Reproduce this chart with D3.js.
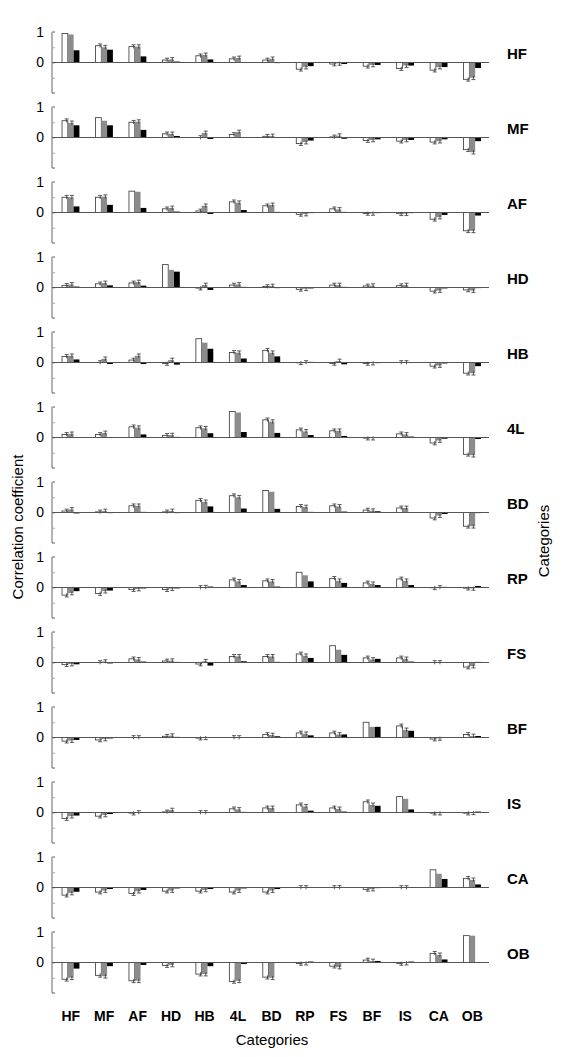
<!DOCTYPE html>
<html><head><meta charset="utf-8">
<script src="https://cdn.jsdelivr.net/npm/d3@7"></script>
<style>body{margin:0;background:#fff}svg{display:block;font-family:"Liberation Sans",Arial,sans-serif}</style>
</head><body><svg id="c" width="568" height="1057"></svg>
<script>
const categories = ["HF","MF","AF","HD","HB","4L","BD","RP","FS","BF","IS","CA","OB"];
const seriesNames = ["white","gray","black"];
const yTicks = [1,0.5,0,-0.5,-1];
const yTickLabels = ["1","","0","",""];
const errSize = [0.06,0.06,0];
// values[row][col] = [white, gray, black]
const valHF = [[0.95,0.92,0.4],[0.55,0.5,0.42],[0.52,0.52,0.2],[0.08,0.1,0.03],[0.22,0.25,0.1],[0.12,0.15,0],[0.08,0.12,-0.02],[-0.22,-0.15,-0.12],[-0.05,-0.03,-0.05],[-0.12,-0.08,-0.08],[-0.2,-0.1,-0.1],[-0.25,-0.15,-0.15],[-0.55,-0.5,-0.18]];
const valMF = [[0.55,0.48,0.4],[0.65,0.55,0.4],[0.5,0.52,0.25],[0.12,0.12,0.05],[0,0.15,-0.05],[0.1,0.18,0],[0.04,0.05,0],[-0.2,-0.15,-0.1],[0.02,0.06,-0.04],[-0.1,-0.08,-0.06],[-0.12,-0.08,-0.08],[-0.15,-0.12,-0.06],[-0.4,-0.48,-0.12]];
const valAF = [[0.5,0.5,0.2],[0.5,0.52,0.25],[0.7,0.68,0.15],[0.12,0.15,0.03],[0.05,0.22,-0.05],[0.35,0.32,0.08],[0.22,0.25,0.02],[-0.06,-0.05,-0.02],[0.12,0.1,0.02],[-0.03,-0.03,-0.02],[-0.04,-0.04,-0.02],[-0.22,-0.15,-0.08],[-0.6,-0.6,-0.1]];
const valHD = [[0.07,0.1,0.03],[0.12,0.15,0.07],[0.15,0.18,0.06],[0.75,0.58,0.52],[-0.02,0.08,-0.08],[0.08,0.1,0.02],[0.03,0.05,-0.02],[-0.06,-0.04,-0.03],[0.08,0.08,0.02],[0.05,0.06,0],[0.06,0.08,0],[-0.12,-0.1,-0.03],[-0.08,-0.1,-0.02]];
const valHB = [[0.2,0.22,0.1],[0,0.12,-0.05],[0.08,0.22,-0.05],[-0.03,0.08,-0.07],[0.78,0.65,0.45],[0.33,0.32,0.13],[0.4,0.32,0.2],[-0.01,0,0.02],[-0.03,0.05,-0.06],[-0.03,-0.02,-0.02],[0,0,0.01],[-0.12,-0.1,-0.03],[-0.35,-0.35,-0.12]];
const val4L = [[0.1,0.12,0],[0.1,0.15,0],[0.35,0.32,0.1],[0.07,0.08,0.02],[0.32,0.3,0.14],[0.85,0.82,0.18],[0.58,0.52,0.15],[0.25,0.2,0.08],[0.22,0.22,0.05],[-0.02,-0.02,-0.01],[0.12,0.1,0.03],[-0.18,-0.1,-0.04],[-0.55,-0.58,-0.05]];
const valBD = [[0.05,0.1,-0.03],[0.02,0.05,-0.02],[0.22,0.22,0.02],[0.02,0.05,-0.02],[0.4,0.35,0.2],[0.55,0.5,0.13],[0.72,0.68,0.12],[0.2,0.18,0.02],[0.22,0.2,0.03],[0.08,0.06,0.04],[0.15,0.15,0.01],[-0.18,-0.1,-0.05],[-0.45,-0.45,-0.02]];
const valRP = [[-0.25,-0.18,-0.12],[-0.2,-0.12,-0.1],[-0.07,-0.05,-0.03],[-0.07,-0.04,-0.03],[0,0.01,0.03],[0.25,0.2,0.08],[0.22,0.2,0.03],[0.5,0.4,0.2],[0.3,0.22,0.15],[0.15,0.12,0.08],[0.28,0.22,0.08],[-0.01,0,0.02],[-0.02,-0.03,0.05]];
const valFS = [[-0.07,-0.05,-0.06],[0,0.03,-0.03],[0.12,0.1,0.03],[0.05,0.06,0.02],[-0.05,0.04,-0.1],[0.2,0.2,0.04],[0.2,0.2,0.02],[0.28,0.22,0.15],[0.55,0.42,0.25],[0.15,0.1,0.12],[0.15,0.12,0.03],[0,0,0.01],[-0.15,-0.12,0.02]];
const valBF = [[-0.12,-0.1,-0.08],[-0.08,-0.05,-0.03],[0,0,0.01],[0.04,0.06,0.02],[-0.02,-0.01,-0.01],[0,0,0.01],[0.1,0.08,0.04],[0.15,0.12,0.07],[0.15,0.1,0.1],[0.5,0.35,0.35],[0.38,0.25,0.22],[-0.05,-0.03,-0.01],[0.1,0.05,0.05]];
const valIS = [[-0.2,-0.12,-0.1],[-0.12,-0.08,-0.05],[-0.02,0,0.01],[0.02,0.08,0],[0,0,0],[0.12,0.1,0.02],[0.15,0.15,0.01],[0.25,0.2,0.06],[0.15,0.12,0.03],[0.35,0.25,0.22],[0.52,0.45,0.1],[-0.02,-0.02,-0.01],[-0.02,-0.01,0.03]];
const valCA = [[-0.25,-0.18,-0.14],[-0.15,-0.1,-0.05],[-0.2,-0.12,-0.08],[-0.12,-0.1,-0.03],[-0.12,-0.08,-0.05],[-0.15,-0.1,-0.03],[-0.15,-0.1,-0.05],[0,0,0.01],[0,0,0],[-0.06,-0.05,-0.02],[0,0,0],[0.58,0.45,0.28],[0.3,0.25,0.1]];
const valOB = [[-0.55,-0.5,-0.2],[-0.42,-0.45,-0.12],[-0.6,-0.6,-0.08],[-0.1,-0.08,0],[-0.38,-0.38,-0.12],[-0.62,-0.6,-0.05],[-0.48,-0.5,0],[-0.03,-0.02,0.03],[-0.12,-0.15,0],[0.08,0.05,0.05],[-0.03,-0.02,0.03],[0.3,0.25,0.1],[0.88,0.88,0]];
const rows = [valHF,valMF,valAF,valHD,valHB,val4L,valBD,valRP,valFS,valBF,valIS,valCA,valOB];

const fills = ["#ffffff","#8c8c8c","#000000"];
const svg = d3.select("#c");
const x = d3.scaleBand().domain(categories).range([54,489]).paddingInner(0.48).paddingOuter(0.24);
const xs = d3.scaleBand().domain(seriesNames).range([0,x.bandwidth()]);
const rowY = d3.scaleBand().domain(categories).range([17,17+75*13]);

rows.forEach((vals,ri)=>{
  const top = rowY(categories[ri]);
  const y = d3.scaleLinear().domain([-1,1]).range([top+76,top+15]);
  const g = svg.append("g");
  // axis bracket
  const ax = g.append("g").attr("transform","translate(52,0)")
    .call(d3.axisRight(y).tickValues(yTicks).tickSize(3).tickFormat(""));
  ax.select(".domain").attr("stroke","#666").attr("d",`M3,${y(1)}H0V${y(-1)}H3`);
  ax.selectAll(".tick line").attr("stroke","#aaa");
  g.selectAll("text.yl").data(yTicks.filter((d,i)=>yTickLabels[i])).join("text")
    .attr("x",44).attr("y",d=>y(d)).attr("dy","0.35em").attr("text-anchor","end")
    .attr("font-size",14).text(d=>yTickLabels[yTicks.indexOf(d)]);
  // bars
  vals.forEach((v,ci)=>{
    v.forEach((val,si)=>{
      const bx = x(categories[ci])+xs(seriesNames[si]);
      g.append("rect").attr("x",bx).attr("width",xs.bandwidth())
        .attr("y",y(Math.max(0,val))).attr("height",Math.abs(y(val)-y(0)))
        .attr("fill",fills[si]).attr("stroke",si===0?"#333":"none").attr("stroke-width",0.8);
      if(errSize[si]>0 && !(ri===ci)){
        const cx = bx+xs.bandwidth()*(si===0?0.8:0.7);
        const e = val>=0?val+errSize[si]:val-errSize[si];
        const e2 = val>=0?val-errSize[si]:val+errSize[si];
        g.append("line").attr("x1",cx).attr("x2",cx).attr("y1",y(e2)).attr("y2",y(e))
          .attr("stroke","#333").attr("stroke-width",0.8);
        g.append("line").attr("x1",cx-2).attr("x2",cx+2).attr("y1",y(e)).attr("y2",y(e))
          .attr("stroke","#333").attr("stroke-width",0.8);
      }
    });
  });
  // zero line
  g.append("line").attr("x1",52).attr("x2",489).attr("y1",y(0)).attr("y2",y(0)).attr("stroke","#555").attr("stroke-width",1);
  g.append("text").attr("x",507).attr("y",y(0)-9).attr("dy","0.35em")
    .attr("font-size",15).attr("font-weight","bold").text(categories[ri]);
});
// bottom labels
svg.append("g").selectAll("text").data(categories).join("text")
  .attr("x",d=>x(d)+x.bandwidth()/2).attr("y",1021).attr("text-anchor","middle")
  .attr("font-size",14).attr("font-weight","bold").text(d=>d);
svg.append("text").attr("x",272).attr("y",1045).attr("text-anchor","middle").attr("font-size",15).text("Categories");
svg.append("text").attr("transform","translate(23,527) rotate(-90)").attr("text-anchor","middle").attr("font-size",15).text("Correlation coefficient");
svg.append("text").attr("transform","translate(549,541) rotate(-90)").attr("text-anchor","middle").attr("font-size",15).text("Categories");
</script></body></html>
